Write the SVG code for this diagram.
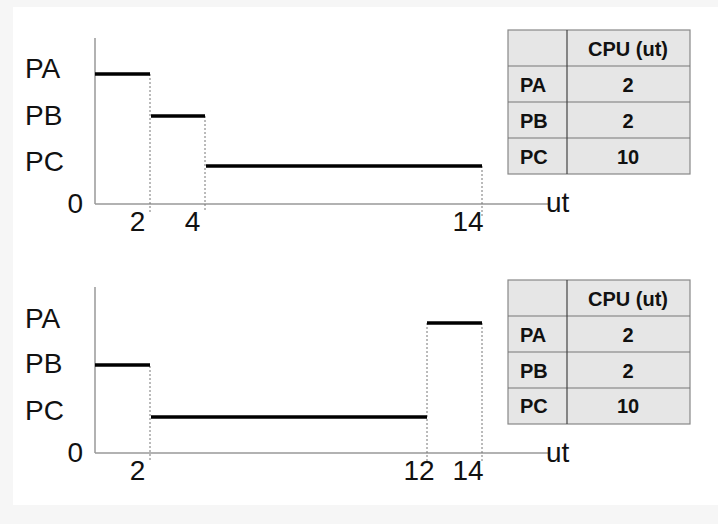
<svg xmlns="http://www.w3.org/2000/svg" width="718" height="524" viewBox="0 0 718 524">
<style>
.lbl{font-family:"Liberation Sans",Arial,sans-serif;font-size:28px;fill:#111}
.tick{font-family:"Liberation Sans",Arial,sans-serif;font-size:28px;fill:#111;text-anchor:middle}
.axis{stroke:#999;stroke-width:1.5;fill:none}
.bar{stroke:#000;stroke-width:3.5;fill:none}
.dash{stroke:#777;stroke-width:1;stroke-dasharray:2,2;fill:none}
.cell{fill:#e6e6e6;stroke:#888;stroke-width:1.2}
.tline{stroke:#777;stroke-width:1.2}
.tdiv{stroke:#444;stroke-width:1.2}
.th{font-family:"Liberation Sans",Arial,sans-serif;font-size:20px;font-weight:bold;fill:#111}
.tc{font-family:"Liberation Sans",Arial,sans-serif;font-size:20px;font-weight:bold;fill:#111;text-anchor:middle}
</style>
<rect x="0" y="0" width="718" height="524" fill="#f6f6f6"/>
<rect x="13" y="7" width="705" height="498" fill="#ffffff"/>

<g id="chart1">
  <g id="chart1-axes">
    <line class="axis" x1="95" y1="38" x2="95" y2="204"/>
    <line class="axis" x1="95" y1="204" x2="550" y2="204"/>
  </g>
  <g id="chart1-connectors">
    <line class="dash" x1="150" y1="74" x2="150" y2="214"/>
    <line class="dash" x1="205" y1="116" x2="205" y2="212"/>
    <line class="dash" x1="482" y1="166" x2="482" y2="216"/>
  </g>
  <g id="chart1-bars">
    <line class="bar" x1="95" y1="74" x2="150" y2="74"/>
    <line class="bar" x1="151" y1="116" x2="205" y2="116"/>
    <line class="bar" x1="206" y1="166" x2="482" y2="166"/>
  </g>
  <text class="lbl" x="25" y="78">PA</text>
  <text class="lbl" x="25" y="125">PB</text>
  <text class="lbl" x="25" y="171">PC</text>
  <text class="lbl" x="83" y="213" text-anchor="end">0</text>
  <text class="tick" x="137.5" y="231">2</text>
  <text class="tick" x="192.5" y="231">4</text>
  <text class="tick" x="468" y="231">14</text>
  <text class="lbl" x="546" y="212">ut</text>
</g>

<g id="table1">
  <rect class="cell" x="508" y="30" width="182" height="144"/>
  <line class="tline" x1="508" y1="66" x2="690" y2="66"/>
  <line class="tline" x1="508" y1="102" x2="690" y2="102"/>
  <line class="tline" x1="508" y1="138" x2="690" y2="138"/>
  <line class="tdiv" x1="567" y1="30" x2="567" y2="174"/>
  <text class="tc" x="628" y="56">CPU (ut)</text>
  <text class="th" x="520" y="92">PA</text>
  <text class="th" x="520" y="128">PB</text>
  <text class="th" x="520" y="164">PC</text>
  <text class="tc" x="628" y="92">2</text>
  <text class="tc" x="628" y="128">2</text>
  <text class="tc" x="628" y="164">10</text>
</g>

<g id="chart2">
  <g id="chart2-axes">
    <line class="axis" x1="95" y1="287" x2="95" y2="453"/>
    <line class="axis" x1="95" y1="453" x2="550" y2="453"/>
  </g>
  <g id="chart2-connectors">
    <line class="dash" x1="150" y1="366" x2="150" y2="461"/>
    <line class="dash" x1="427" y1="323" x2="427" y2="461"/>
    <line class="dash" x1="482" y1="323" x2="482" y2="461"/>
  </g>
  <g id="chart2-bars">
    <line class="bar" x1="95" y1="365" x2="150" y2="365"/>
    <line class="bar" x1="151" y1="417" x2="427" y2="417"/>
    <line class="bar" x1="427" y1="323" x2="482" y2="323"/>
  </g>
  <text class="lbl" x="25" y="328">PA</text>
  <text class="lbl" x="25" y="373">PB</text>
  <text class="lbl" x="25" y="420">PC</text>
  <text class="lbl" x="83" y="462" text-anchor="end">0</text>
  <text class="tick" x="137.5" y="480">2</text>
  <text class="tick" x="419" y="480">12</text>
  <text class="tick" x="468" y="480">14</text>
  <text class="lbl" x="546" y="462">ut</text>
</g>

<g id="table2">
  <rect class="cell" x="508" y="280" width="182" height="144"/>
  <line class="tline" x1="508" y1="316" x2="690" y2="316"/>
  <line class="tline" x1="508" y1="352" x2="690" y2="352"/>
  <line class="tline" x1="508" y1="388" x2="690" y2="388"/>
  <line class="tdiv" x1="567" y1="280" x2="567" y2="424"/>
  <text class="tc" x="628" y="306">CPU (ut)</text>
  <text class="th" x="520" y="342">PA</text>
  <text class="th" x="520" y="378">PB</text>
  <text class="th" x="520" y="413">PC</text>
  <text class="tc" x="628" y="342">2</text>
  <text class="tc" x="628" y="378">2</text>
  <text class="tc" x="628" y="413">10</text>
</g>
</svg>
